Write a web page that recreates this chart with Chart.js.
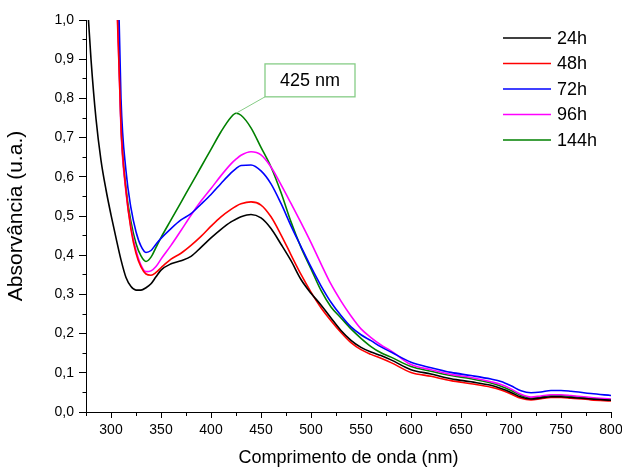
<!DOCTYPE html>
<html>
<head>
<meta charset="utf-8">
<script src="https://cdn.jsdelivr.net/npm/chart.js@4/dist/chart.umd.min.js"></script>
<style>
  html, body { margin: 0; padding: 0; background: #fff; }
  #wrap { width: 622px; height: 470px; }
</style>
</head>
<body>
<div id="wrap"><canvas id="c" width="622" height="470"></canvas></div>
<script>
// comprimentos de onda (nm)
var wavelengths = [275, 280, 285, 290, 295, 300, 305, 310, 315, 320, 325, 330, 335, 340, 345, 350,
  360, 370, 380, 390, 400, 410, 420, 425, 430, 440, 450, 460, 470, 480, 490, 500,
  510, 520, 530, 540, 550, 560, 570, 580, 600, 620, 640, 660, 680, 690, 700, 710,
  720, 730, 740, 750, 760, 780, 800];

var abs24h = [1.1, 0.9, 0.748, 0.642, 0.567, 0.503, 0.444, 0.388, 0.343, 0.32, 0.311, 0.311, 0.317, 0.327, 0.345, 0.362,
  0.378, 0.386, 0.397, 0.42, 0.444, 0.466, 0.485, 0.492, 0.498, 0.504, 0.495, 0.468, 0.428, 0.386, 0.338, 0.303,
  0.273, 0.24, 0.208, 0.183, 0.165, 0.153, 0.144, 0.133, 0.108, 0.097, 0.085, 0.077, 0.068, 0.06, 0.05, 0.038,
  0.033, 0.036, 0.039, 0.039, 0.037, 0.033, 0.03];

var abs48h = [null, null, null, null, null, null, 1.12, 0.73, 0.565, 0.465, 0.405, 0.37, 0.352, 0.349, 0.356, 0.368,
  0.39, 0.405, 0.425, 0.448, 0.474, 0.498, 0.517, 0.525, 0.531, 0.536, 0.528, 0.498, 0.452, 0.401, 0.351, 0.306,
  0.266, 0.233, 0.203, 0.177, 0.159, 0.147, 0.137, 0.126, 0.101, 0.091, 0.08, 0.072, 0.063, 0.056, 0.046, 0.035,
  0.031, 0.034, 0.037, 0.037, 0.035, 0.031, 0.028];

var abs72h = [null, null, null, null, null, null, 1.35, 0.8, 0.615, 0.52, 0.46, 0.423, 0.407, 0.412, 0.428, 0.443,
  0.468, 0.49, 0.506, 0.53, 0.555, 0.583, 0.61, 0.621, 0.629, 0.63, 0.615, 0.582, 0.532, 0.475, 0.422, 0.37,
  0.322, 0.28, 0.246, 0.217, 0.197, 0.182, 0.166, 0.153, 0.127, 0.113, 0.101, 0.093, 0.084, 0.078, 0.067, 0.054,
  0.049, 0.051, 0.055, 0.055, 0.053, 0.047, 0.042];

var abs96h = [null, null, null, null, null, null, 1.15, 0.72, 0.56, 0.47, 0.413, 0.375, 0.358, 0.36, 0.371, 0.39,
  0.425, 0.463, 0.502, 0.538, 0.57, 0.603, 0.633, 0.645, 0.655, 0.664, 0.656, 0.625, 0.58, 0.532, 0.483, 0.432,
  0.378, 0.326, 0.283, 0.245, 0.212, 0.19, 0.171, 0.156, 0.121, 0.108, 0.096, 0.088, 0.077, 0.07, 0.059, 0.045,
  0.038, 0.041, 0.044, 0.044, 0.042, 0.037, 0.033];

var abs144h = [null, null, null, null, null, null, 1.2, 0.73, 0.57, 0.485, 0.43, 0.398, 0.384, 0.395, 0.42, 0.445,
  0.49, 0.535, 0.58, 0.625, 0.67, 0.715, 0.752, 0.762, 0.757, 0.725, 0.675, 0.625, 0.56, 0.485, 0.42, 0.365,
  0.31, 0.268, 0.24, 0.212, 0.188, 0.167, 0.151, 0.14, 0.116, 0.104, 0.093, 0.085, 0.074, 0.066, 0.055, 0.042,
  0.036, 0.039, 0.042, 0.042, 0.04, 0.035, 0.032];

var seriesLabels = ['24h', '48h', '72h', '96h', '144h'];
var seriesColors = ['#000000', '#ff0000', '#0000ff', '#ff00ff', '#008000'];
var peakText = '425 nm';
var peakWavelength = 425;

var FONT = 'Arial, "Liberation Sans", sans-serif';

function toPoints(values) {
  var pts = [];
  for (var i = 0; i < wavelengths.length; i++) {
    if (values[i] !== null) pts.push({ x: wavelengths[i], y: values[i] });
  }
  return pts;
}

var allSeries = [abs24h, abs48h, abs72h, abs96h, abs144h];
var datasets = allSeries.map(function (vals, i) {
  return {
    label: seriesLabels[i],
    data: toPoints(vals),
    borderColor: seriesColors[i],
    borderWidth: 1.6,
    pointRadius: 0,
    fill: false,
    cubicInterpolationMode: 'monotone'
  };
});

/* legenda desenhada dentro da área do gráfico, canto superior direito */
var sideLegend = {
  id: 'sideLegend',
  afterDatasetsDraw: function (chart) {
    var ctx = chart.ctx, area = chart.chartArea;
    ctx.save();
    ctx.font = '18px ' + FONT;
    ctx.textBaseline = 'middle';
    ctx.fillStyle = '#000';
    chart.data.datasets.forEach(function (ds, i) {
      var y = area.top + 18 + i * 25.5;
      ctx.strokeStyle = ds.borderColor;
      ctx.lineWidth = 1.6;
      ctx.beginPath();
      ctx.moveTo(area.right - 108, y);
      ctx.lineTo(area.right - 60, y);
      ctx.stroke();
      ctx.fillText(ds.label, area.right - 54, y + 1);
    });
    ctx.restore();
  }
};

/* caixa com o pico da série de 144h */
var peakNote = {
  id: 'peakNote',
  afterDatasetsDraw: function (chart) {
    var ctx = chart.ctx, xs = chart.scales.x, ys = chart.scales.y;
    var peakY = abs144h[wavelengths.indexOf(peakWavelength)];
    var px = xs.getPixelForValue(peakWavelength), py = ys.getPixelForValue(peakY);
    var bx0 = xs.getPixelForValue(454), bx1 = xs.getPixelForValue(544);
    var by0 = ys.getPixelForValue(0.888), by1 = ys.getPixelForValue(0.804);
    ctx.save();
    ctx.strokeStyle = '#86cc86';
    ctx.lineWidth = 1;
    ctx.beginPath();
    ctx.moveTo(px, py);
    ctx.lineTo(bx0, by1);
    ctx.stroke();
    ctx.fillStyle = '#fff';
    ctx.fillRect(bx0, by0, bx1 - bx0, by1 - by0);
    ctx.lineWidth = 1.3;
    ctx.strokeRect(bx0, by0, bx1 - bx0, by1 - by0);
    ctx.fillStyle = '#000';
    ctx.font = '18px ' + FONT;
    ctx.textAlign = 'center';
    ctx.textBaseline = 'middle';
    ctx.fillText(peakText, (bx0 + bx1) / 2, (by0 + by1) / 2 + 1);
    ctx.restore();
  }
};

new Chart(document.getElementById('c'), {
  type: 'line',
  data: { datasets: datasets },
  plugins: [sideLegend, peakNote],
  options: {
    responsive: false,
    devicePixelRatio: 1,
    animation: false,
    layout: { padding: { top: 20, right: 11, left: 0, bottom: 0 } },
    plugins: { legend: { display: false }, tooltip: { enabled: false } },
    scales: {
      x: {
        type: 'linear',
        min: 275,
        max: 800,
        border: { color: '#000', width: 1 },
        grid: {
          drawOnChartArea: false,
          tickLength: 6,
          tickColor: '#000',
          tickBorderDash: function (c) { return c.tick && c.tick.value % 50 !== 0 ? [3, 20] : []; }
        },
        ticks: {
          stepSize: 25,
          autoSkip: false,
          maxRotation: 0,
          padding: 4,
          color: '#000',
          font: { family: FONT, size: 14 },
          callback: function (v) { return v % 50 === 0 ? String(v) : ''; }
        },
        title: {
          display: true,
          text: 'Comprimento de onda (nm)',
          color: '#000',
          font: { family: FONT, size: 18 },
          padding: { top: 2, bottom: 1 }
        },
        afterFit: function (s) { s.height = 58; s.paddingLeft = 0; s.paddingRight = 0; }
      },
      y: {
        min: 0,
        max: 1,
        border: { color: '#000', width: 1 },
        grid: {
          drawOnChartArea: false,
          tickLength: 7,
          tickColor: '#000',
          tickBorderDash: function (c) {
            var k = c.tick ? Math.round(c.tick.value * 100) : 0;
            return k % 10 !== 0 ? [0, 3.5, 3.5, 20] : [];
          }
        },
        ticks: {
          stepSize: 0.05,
          autoSkip: false,
          padding: 5,
          color: '#000',
          font: { family: FONT, size: 14 },
          callback: function (v) {
            var k = Math.round(v * 100);
            return k % 10 === 0 ? (k / 100).toFixed(1).replace('.', ',') : '';
          }
        },
        title: {
          display: true,
          text: 'Absorvância (u.a.)',
          color: '#000',
          font: { family: FONT, size: 21 },
          padding: { top: 4, bottom: 2 }
        },
        afterFit: function (s) { s.width = 86; s.paddingTop = 0; s.paddingBottom = 0; }
      }
    }
  }
});
</script>
</body>
</html>
